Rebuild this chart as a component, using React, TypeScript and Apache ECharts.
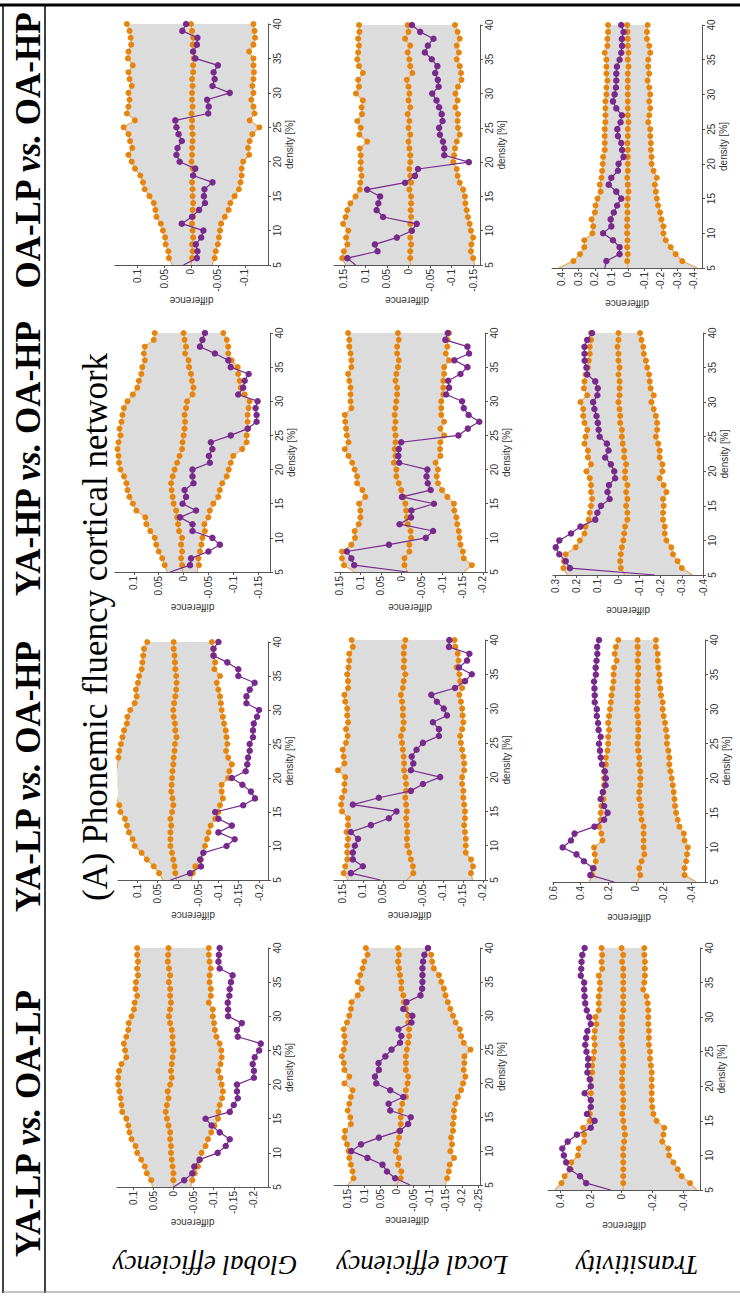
import React, { useEffect, useRef } from "react";
import * as echarts from "echarts";

// density [%] grid shared by every panel
const densities = [5, 6, 7, 8, 9, 10, 11, 12, 13, 14, 15, 16, 17, 18, 19, 20, 21, 22, 23, 24, 25, 26, 27, 28, 29, 30, 31, 32, 33, 34, 35, 36, 37, 38, 39, 40];

const comparisons = ["OA-LP vs. OA-HP", "YA-HP vs. OA-HP", "YA-LP vs. OA-HP", "YA-LP vs. OA-LP"];
const measures = ["Global efficiency", "Local efficiency", "Transitivity"];
const title = "(A) Phonemic fluency cortical network";

// ---------- Global efficiency ----------
const globalOaLpOaHpUpper = [0.034, 0.041, 0.042, 0.047, 0.048, 0.052, 0.056, 0.064, 0.066, 0.069, 0.077, 0.086, 0.089, 0.094, 0.104, 0.110, 0.116, 0.109, 0.113, 0.116, 0.125, 0.104, 0.119, 0.116, 0.114, 0.116, 0.110, 0.114, 0.116, 0.108, 0.117, 0.116, 0.111, 0.112, 0.114, 0.119];
const globalOaLpOaHpNull = [0, -0.002, -0.003, -0.002, -0.004, -0.003, -0.002, -0.004, -0.003, -0.004, -0.003, -0.003, -0.002, -0.004, -0.003, -0.001, -0.002, -0.002, -0.003, -0.003, -0.002, -0.002, -0.001, -0.003, -0.002, -0.002, -0.003, -0.002, -0.004, -0.004, -0.005, -0.004, -0.003, -0.004, -0.002, 0];
const globalOaLpOaHpLower = [-0.039, -0.044, -0.046, -0.050, -0.052, -0.054, -0.056, -0.063, -0.070, -0.073, -0.081, -0.089, -0.092, -0.094, -0.094, -0.097, -0.108, -0.106, -0.109, -0.114, -0.127, -0.109, -0.118, -0.116, -0.112, -0.116, -0.114, -0.116, -0.117, -0.116, -0.116, -0.108, -0.116, -0.119, -0.118, -0.116];
const globalOaLpOaHpObs = [0.014, -0.011, -0.012, -0.009, -0.019, -0.023, 0.017, -0.002, -0.015, -0.026, -0.024, -0.025, -0.040, -0.004, -0.008, 0.021, 0.027, 0.025, 0.017, 0.023, 0.027, 0.029, -0.032, -0.033, -0.030, -0.072, -0.040, -0.044, -0.042, -0.050, -0.008, -0.004, -0.011, -0.012, 0.016, 0.009];

const globalYaHpOaHpUpper = [0.033, 0.038, 0.043, 0.050, 0.055, 0.058, 0.067, 0.075, 0.077, 0.095, 0.102, 0.109, 0.113, 0.115, 0.120, 0.127, 0.130, 0.131, 0.133, 0.131, 0.127, 0.129, 0.125, 0.123, 0.120, 0.113, 0.102, 0.093, 0.090, 0.085, 0.083, 0.078, 0.080, 0.078, 0.060, 0.058];
const globalYaHpOaHpNull = [0.002, 0.003, 0.005, 0.003, 0.005, 0.003, 0.009, 0.011, 0.013, 0.015, 0.020, 0.022, 0.024, 0.025, 0.022, 0.018, 0.013, 0.008, 0.003, 0.002, 0, -0.002, -0.003, -0.002, -0.005, -0.007, -0.018, -0.020, -0.017, -0.015, -0.011, -0.010, -0.003, -0.005, -0.002, 0];
const globalYaHpOaHpLower = [-0.027, -0.031, -0.030, -0.033, -0.036, -0.038, -0.043, -0.042, -0.050, -0.053, -0.060, -0.070, -0.073, -0.078, -0.087, -0.091, -0.095, -0.100, -0.118, -0.127, -0.127, -0.130, -0.129, -0.129, -0.131, -0.133, -0.123, -0.115, -0.113, -0.110, -0.109, -0.097, -0.090, -0.090, -0.087, -0.080];
const globalYaHpOaHpObs = [0.027, -0.013, -0.015, -0.050, -0.073, -0.058, -0.018, -0.018, 0.007, -0.025, 0.002, -0.005, -0.002, -0.020, -0.018, -0.018, -0.053, -0.051, -0.058, -0.055, -0.095, -0.129, -0.147, -0.147, -0.145, -0.149, -0.110, -0.120, -0.123, -0.131, -0.095, -0.090, -0.063, -0.033, -0.038, -0.043];

const globalYaLpOaHpUpper = [0.036, 0.046, 0.059, 0.076, 0.089, 0.106, 0.111, 0.120, 0.125, 0.130, 0.141, 0.144, 0.150, 0.151, 0.150, 0.150, 0.150, 0.148, 0.146, 0.144, 0.140, 0.136, 0.132, 0.125, 0.124, 0.117, 0.106, 0.101, 0.103, 0.098, 0.095, 0.089, 0.087, 0.085, 0.083, 0.075];
const globalYaLpOaHpNull = [0.003, 0.006, 0.008, 0.011, 0.014, 0.018, 0.018, 0.018, 0.016, 0.018, 0.014, 0.011, 0.013, 0.016, 0.015, 0.014, 0.013, 0.011, 0.010, 0.008, 0.007, 0.003, 0.006, 0.007, 0.010, 0.011, 0.009, 0.006, 0.004, 0.003, 0.004, 0.006, 0.007, 0.008, 0.010, 0.010];
const globalYaLpOaHpLower = [-0.033, -0.037, -0.043, -0.057, -0.063, -0.067, -0.072, -0.076, -0.081, -0.092, -0.100, -0.104, -0.111, -0.108, -0.108, -0.124, -0.127, -0.133, -0.124, -0.119, -0.122, -0.120, -0.118, -0.114, -0.111, -0.108, -0.106, -0.104, -0.100, -0.096, -0.104, -0.090, -0.092, -0.088, -0.088, -0.084];
const globalYaLpOaHpObs = [0.018, -0.030, -0.057, -0.055, -0.063, -0.120, -0.140, -0.100, -0.133, -0.100, -0.092, -0.161, -0.190, -0.180, -0.159, -0.133, -0.167, -0.171, -0.173, -0.177, -0.177, -0.185, -0.185, -0.187, -0.195, -0.200, -0.169, -0.169, -0.177, -0.189, -0.149, -0.149, -0.122, -0.088, -0.088, -0.100];

const globalYaLpOaLpUpper = [0.052, 0.055, 0.066, 0.071, 0.080, 0.090, 0.094, 0.104, 0.109, 0.112, 0.117, 0.127, 0.129, 0.131, 0.134, 0.137, 0.137, 0.135, 0.129, 0.117, 0.120, 0.123, 0.117, 0.112, 0.111, 0.104, 0.098, 0.096, 0.090, 0.094, 0.093, 0.088, 0.090, 0.088, 0.090, 0.090];
const globalYaLpOaLpNull = [0, 0, 0, 0.002, 0.004, 0.006, 0.006, 0.008, 0.008, 0.012, 0.016, 0.019, 0.016, 0.012, 0.014, 0.008, 0.004, 0.006, 0.004, 0.002, 0, 0.002, 0.002, 0.004, 0.008, 0.011, 0.008, 0.006, 0.008, 0.008, 0.011, 0.008, 0.011, 0.014, 0.013, 0.012];
const globalYaLpOaLpLower = [-0.043, -0.047, -0.053, -0.061, -0.066, -0.070, -0.080, -0.086, -0.094, -0.102, -0.111, -0.112, -0.115, -0.121, -0.123, -0.120, -0.117, -0.112, -0.117, -0.120, -0.119, -0.115, -0.107, -0.103, -0.101, -0.098, -0.098, -0.088, -0.093, -0.093, -0.090, -0.090, -0.093, -0.090, -0.088, -0.088];
const globalYaLpOaLpObs = [0, -0.027, -0.047, -0.052, -0.065, -0.110, -0.130, -0.140, -0.115, -0.095, -0.080, -0.140, -0.150, -0.160, -0.158, -0.158, -0.200, -0.200, -0.197, -0.202, -0.213, -0.217, -0.160, -0.158, -0.170, -0.136, -0.136, -0.135, -0.139, -0.140, -0.143, -0.147, -0.115, -0.112, -0.113, -0.115];

// ---------- Local efficiency ----------
const localOaLpOaHpUpper = [0.146, 0.154, 0.150, 0.142, 0.145, 0.140, 0.152, 0.146, 0.142, 0.135, 0.123, 0.113, 0.112, 0.109, 0.111, 0.111, 0.111, 0.113, 0.096, 0.114, 0.111, 0.119, 0.108, 0.109, 0.106, 0.122, 0.115, 0.117, 0.106, 0.115, 0.119, 0.117, 0.115, 0.117, 0.114, 0.115];
const localOaLpOaHpNull = [-0.004, -0.004, -0.004, -0.006, -0.004, -0.006, -0.004, -0.006, -0.005, -0.006, -0.006, -0.002, -0.006, -0.004, -0.002, -0.004, -0.004, -0.002, 0, -0.004, 0, -0.002, 0.002, -0.004, 0, -0.002, 0, 0.004, -0.009, -0.004, -0.002, 0.002, -0.004, 0.008, 0, 0.002];
const localOaLpOaHpLower = [-0.154, -0.150, -0.145, -0.146, -0.150, -0.145, -0.142, -0.138, -0.135, -0.132, -0.131, -0.127, -0.119, -0.114, -0.112, -0.104, -0.106, -0.108, -0.112, -0.119, -0.115, -0.114, -0.115, -0.109, -0.114, -0.109, -0.115, -0.123, -0.122, -0.119, -0.112, -0.117, -0.112, -0.119, -0.114, -0.108];
const localOaLpOaHpObs = [0.123, 0.142, 0.072, 0.078, 0.027, -0.008, -0.019, 0.059, 0.074, 0.070, 0.066, 0.096, 0.008, -0.015, -0.022, -0.140, -0.083, -0.083, -0.080, -0.073, -0.071, -0.079, -0.077, -0.071, -0.065, -0.055, -0.070, -0.068, -0.062, -0.067, -0.054, -0.038, -0.045, -0.058, -0.027, -0.008];

const localYaHpOaHpUpper = [0.113, 0.140, 0.145, 0.145, 0.122, 0.113, 0.114, 0.104, 0.100, 0.100, 0.103, 0.088, 0.095, 0.108, 0.108, 0.114, 0.120, 0.129, 0.138, 0.129, 0.133, 0.135, 0.137, 0.138, 0.122, 0.124, 0.124, 0.124, 0.127, 0.130, 0.122, 0.122, 0.124, 0.127, 0.127, 0.130];
const localYaHpOaHpNull = [-0.016, -0.008, -0.008, -0.020, -0.020, -0.024, -0.023, -0.016, -0.014, -0.012, -0.010, -0.006, 0, 0.006, 0.012, 0.012, 0.018, 0.014, 0.016, 0.014, 0.014, 0.016, 0.014, 0.016, 0.014, 0.012, 0.010, 0.010, 0.014, 0.012, 0.008, 0.006, 0.010, 0.010, 0.006, 0.008];
const localYaHpOaHpLower = [-0.153, -0.173, -0.153, -0.151, -0.145, -0.143, -0.141, -0.137, -0.135, -0.130, -0.129, -0.113, -0.100, -0.090, -0.087, -0.090, -0.084, -0.096, -0.095, -0.096, -0.105, -0.096, -0.105, -0.098, -0.098, -0.098, -0.103, -0.103, -0.103, -0.105, -0.105, -0.117, -0.109, -0.113, -0.113, -0.117];
const localYaHpOaHpObs = [-0.016, 0.115, 0.122, 0.133, 0.030, -0.060, -0.078, 0.004, -0.024, -0.025, -0.080, -0.002, -0.072, -0.065, -0.062, -0.064, 0.005, 0.007, 0.006, 0.000, -0.140, -0.163, -0.191, -0.165, -0.153, -0.149, -0.110, -0.117, -0.115, -0.145, -0.162, -0.130, -0.166, -0.162, -0.108, -0.114];

const localYaLpOaHpUpper = [0.137, 0.148, 0.144, 0.139, 0.139, 0.139, 0.137, 0.141, 0.137, 0.137, 0.152, 0.154, 0.152, 0.146, 0.146, 0.144, 0.162, 0.146, 0.148, 0.150, 0.142, 0.138, 0.142, 0.137, 0.139, 0.139, 0.144, 0.146, 0.137, 0.137, 0.139, 0.136, 0.134, 0.134, 0.125, 0.128];
const localYaLpOaHpNull = [-0.010, -0.026, -0.025, -0.020, -0.016, -0.011, -0.010, -0.011, -0.010, -0.008, -0.010, -0.008, -0.006, -0.008, -0.008, -0.006, -0.003, -0.003, -0.002, 0, 0.002, 0.005, 0, -0.002, 0, 0, 0.002, 0.005, 0, -0.002, -0.006, -0.002, -0.003, -0.002, -0.003, -0.006];
const localYaLpOaHpLower = [-0.174, -0.170, -0.175, -0.170, -0.157, -0.157, -0.157, -0.155, -0.153, -0.155, -0.155, -0.153, -0.151, -0.151, -0.148, -0.148, -0.153, -0.153, -0.151, -0.148, -0.145, -0.143, -0.148, -0.151, -0.149, -0.148, -0.145, -0.141, -0.148, -0.143, -0.141, -0.134, -0.139, -0.137, -0.131, -0.129];
const localYaLpOaHpObs = [0.056, 0.130, 0.100, 0.125, 0.125, 0.120, 0.112, 0.130, 0.080, 0.035, 0.016, 0.125, 0.060, -0.020, -0.050, -0.093, -0.020, -0.026, -0.022, -0.034, -0.050, -0.090, -0.090, -0.075, -0.110, -0.102, -0.085, -0.071, -0.130, -0.155, -0.172, -0.140, -0.160, -0.166, -0.115, -0.116];

const localYaLpOaLpUpper = [0.151, 0.133, 0.136, 0.141, 0.146, 0.148, 0.153, 0.161, 0.159, 0.141, 0.143, 0.151, 0.146, 0.141, 0.136, 0.161, 0.146, 0.161, 0.163, 0.169, 0.163, 0.159, 0.161, 0.163, 0.153, 0.146, 0.141, 0.139, 0.120, 0.108, 0.120, 0.112, 0.105, 0.100, 0.090, 0.095];
const localYaLpOaLpNull = [0.003, -0.012, -0.014, -0.004, -0.007, 0.003, -0.002, -0.007, -0.007, -0.012, -0.012, -0.012, -0.017, -0.028, -0.028, -0.033, -0.035, -0.028, -0.028, -0.028, -0.031, -0.035, -0.038, -0.038, -0.035, -0.035, -0.028, -0.022, -0.020, -0.014, -0.014, -0.010, -0.007, -0.004, -0.007, -0.004];
const localYaLpOaLpLower = [-0.150, -0.155, -0.160, -0.163, -0.176, -0.165, -0.170, -0.167, -0.173, -0.173, -0.176, -0.176, -0.180, -0.188, -0.198, -0.204, -0.211, -0.206, -0.208, -0.208, -0.227, -0.206, -0.198, -0.194, -0.181, -0.173, -0.165, -0.157, -0.150, -0.145, -0.137, -0.130, -0.114, -0.109, -0.106, -0.096];
const localYaLpOaLpObs = [-0.041, 0.005, 0.030, 0.044, 0.090, 0.140, 0.110, 0.055, -0.010, -0.035, -0.043, 0.020, 0.025, -0.020, 0.020, 0.063, 0.067, 0.055, 0.056, 0.035, 0.016, -0.010, -0.014, -0.005, -0.045, -0.048, -0.020, -0.030, -0.073, -0.078, -0.079, -0.079, -0.079, -0.081, -0.085, -0.096];

// ---------- Transitivity ----------
const transOaLpOaHpUpper = [0.420, 0.330, 0.290, 0.264, 0.264, 0.215, 0.210, 0.220, 0.200, 0.196, 0.184, 0.165, 0.170, 0.160, 0.156, 0.152, 0.150, 0.140, 0.140, 0.140, 0.140, 0.136, 0.136, 0.136, 0.136, 0.130, 0.130, 0.124, 0.130, 0.130, 0.130, 0.140, 0.124, 0.124, 0.120, 0.120];
const transOaLpOaHpNull = [0, 0.004, 0, 0.004, 0.002, 0.004, 0.004, 0.004, 0.002, 0.004, 0, -0.004, 0, 0.004, 0, 0, 0, 0, 0.002, 0, 0, -0.004, 0, 0, 0, 0, 0, 0, 0, -0.004, 0, -0.004, 0, 0, 0.002, 0.004];
const transOaLpOaHpLower = [-0.420, -0.330, -0.290, -0.260, -0.230, -0.216, -0.216, -0.204, -0.196, -0.184, -0.176, -0.170, -0.164, -0.176, -0.156, -0.144, -0.144, -0.140, -0.140, -0.136, -0.136, -0.124, -0.130, -0.136, -0.130, -0.136, -0.130, -0.120, -0.130, -0.124, -0.124, -0.136, -0.130, -0.116, -0.116, -0.120];
const transOaLpOaHpObs = [0.140, 0.130, 0.050, 0.050, 0.090, 0.150, 0.100, 0.104, 0.085, 0.065, 0.040, 0.070, 0.116, 0.100, 0.060, 0.056, 0.026, 0.035, 0.040, 0.060, 0.064, 0.044, 0.036, 0.070, 0.090, 0.080, 0.072, 0.070, 0.070, 0.066, 0.050, 0.040, 0.035, 0.036, 0.026, 0.040];

const transYaHpOaHpUpper = [0.242, 0.261, 0.258, 0.250, 0.203, 0.183, 0.161, 0.156, 0.141, 0.136, 0.130, 0.125, 0.130, 0.130, 0.136, 0.152, 0.130, 0.145, 0.145, 0.161, 0.156, 0.148, 0.161, 0.167, 0.167, 0.180, 0.148, 0.164, 0.161, 0.156, 0.145, 0.141, 0.136, 0.136, 0.130, 0.130];
const transYaHpOaHpNull = [-0.030, -0.011, -0.008, -0.011, -0.016, -0.023, -0.027, -0.031, -0.042, -0.042, -0.036, -0.042, -0.036, -0.042, -0.031, -0.031, -0.036, -0.027, -0.027, -0.020, -0.016, -0.016, -0.008, -0.008, -0.005, 0, -0.005, -0.005, -0.005, 0, -0.005, 0, 0, 0.005, 0, 0];
const transYaHpOaHpLower = [-0.350, -0.300, -0.280, -0.258, -0.250, -0.227, -0.219, -0.219, -0.211, -0.211, -0.214, -0.211, -0.227, -0.214, -0.195, -0.208, -0.208, -0.195, -0.195, -0.188, -0.177, -0.183, -0.183, -0.177, -0.167, -0.156, -0.167, -0.152, -0.148, -0.145, -0.136, -0.130, -0.120, -0.117, -0.109, -0.102];
const transYaHpOaHpObs = [-0.172, 0.230, 0.250, 0.280, 0.297, 0.280, 0.225, 0.180, 0.110, 0.100, 0.083, 0.042, 0.052, 0.045, 0.016, 0.020, 0.036, 0.063, 0.047, 0.055, 0.089, 0.094, 0.098, 0.104, 0.114, 0.120, 0.100, 0.098, 0.110, 0.148, 0.152, 0.160, 0.161, 0.161, 0.148, 0.125];

const transYaLpOaHpUpper = [0.340, 0.315, 0.303, 0.291, 0.298, 0.303, 0.242, 0.250, 0.267, 0.255, 0.255, 0.250, 0.235, 0.235, 0.230, 0.230, 0.230, 0.218, 0.218, 0.206, 0.201, 0.201, 0.194, 0.201, 0.194, 0.187, 0.182, 0.177, 0.170, 0.162, 0.162, 0.158, 0.140, 0.153, 0.145, 0.128];
const transYaLpOaHpNull = [-0.012, -0.032, -0.024, -0.041, -0.061, -0.056, -0.056, -0.056, -0.056, -0.041, -0.036, -0.036, -0.024, -0.024, -0.032, -0.032, -0.032, -0.024, -0.024, -0.017, -0.012, -0.017, -0.017, -0.017, -0.012, -0.007, -0.012, -0.012, -0.012, -0.012, -0.017, -0.017, -0.012, -0.017, -0.012, -0.012];
const transYaLpOaHpLower = [-0.436, -0.352, -0.352, -0.364, -0.370, -0.376, -0.352, -0.347, -0.315, -0.303, -0.291, -0.283, -0.279, -0.274, -0.267, -0.259, -0.250, -0.242, -0.242, -0.235, -0.225, -0.225, -0.218, -0.211, -0.201, -0.194, -0.194, -0.182, -0.177, -0.170, -0.170, -0.162, -0.158, -0.158, -0.145, -0.145];
const transYaLpOaHpObs = [0.158, 0.330, 0.310, 0.376, 0.430, 0.530, 0.470, 0.444, 0.300, 0.230, 0.205, 0.230, 0.255, 0.240, 0.220, 0.218, 0.225, 0.245, 0.255, 0.260, 0.267, 0.255, 0.270, 0.274, 0.283, 0.283, 0.298, 0.298, 0.300, 0.303, 0.290, 0.291, 0.285, 0.279, 0.280, 0.267];

const transYaLpOaLpUpper = [0.435, 0.390, 0.370, 0.330, 0.326, 0.283, 0.278, 0.243, 0.243, 0.250, 0.206, 0.206, 0.200, 0.200, 0.200, 0.200, 0.200, 0.191, 0.191, 0.185, 0.178, 0.174, 0.178, 0.174, 0.163, 0.170, 0.148, 0.148, 0.148, 0.141, 0.141, 0.148, 0.126, 0.130, 0.126, 0.130];
const transYaLpOaLpNull = [-0.011, -0.011, -0.011, -0.011, -0.011, -0.011, -0.011, -0.017, -0.022, -0.017, -0.011, -0.004, -0.011, -0.011, -0.011, -0.004, -0.004, -0.004, -0.011, -0.011, -0.011, -0.004, 0, -0.004, -0.004, -0.004, -0.011, -0.011, -0.011, -0.011, -0.011, -0.011, -0.011, -0.004, -0.011, 0];
const transYaLpOaLpLower = [-0.490, -0.445, -0.390, -0.365, -0.337, -0.309, -0.304, -0.265, -0.272, -0.278, -0.228, -0.207, -0.200, -0.196, -0.196, -0.196, -0.196, -0.196, -0.191, -0.185, -0.185, -0.178, -0.178, -0.178, -0.174, -0.174, -0.174, -0.170, -0.163, -0.141, -0.148, -0.152, -0.152, -0.152, -0.148, -0.148];
const transYaLpOaLpObs = [0.070, 0.230, 0.270, 0.337, 0.360, 0.375, 0.385, 0.350, 0.290, 0.200, 0.175, 0.225, 0.200, 0.200, 0.240, 0.200, 0.207, 0.222, 0.218, 0.217, 0.228, 0.236, 0.230, 0.222, 0.200, 0.210, 0.226, 0.236, 0.240, 0.243, 0.243, 0.265, 0.262, 0.260, 0.255, 0.240];

// tick labels of the "difference" axes
const ticksGlobal1 = [-0.1, -0.05, 0, 0.05, 0.1];
const ticksGlobal2 = [-0.15, -0.1, -0.05, 0, 0.05, 0.1];
const ticksGlobal3 = [-0.2, -0.15, -0.1, -0.05, 0, 0.05, 0.1];
const ticksLocal1 = [-0.15, -0.1, -0.05, 0, 0.05, 0.1, 0.15];
const ticksLocal2 = [-0.2, -0.15, -0.1, -0.05, 0, 0.05, 0.1, 0.15];
const ticksLocal4 = [-0.25, -0.2, -0.15, -0.1, -0.05, 0, 0.05, 0.1, 0.15];
const ticksTrans1 = [-0.4, -0.3, -0.2, -0.1, 0, 0.1, 0.2, 0.3, 0.4];
const ticksTrans2 = [-0.4, -0.3, -0.2, -0.1, 0, 0.1, 0.2, 0.3];
const ticksTrans3 = [-0.4, -0.2, 0, 0.2, 0.4, 0.6];
const ticksTrans4 = [-0.4, -0.2, 0, 0.2, 0.4];

type Panel = {
  rect: [number, number, number, number];
  min: number;
  max: number;
  ticks: number[];
  upper: number[];
  nul: number[];
  lower: number[];
  obs: number[];
};

// layout: [left, top, right, bottom] in px
const panels: Panel[] = [
  { rect: [115, 24, 268, 265], min: -0.143, max: 0.141, ticks: ticksGlobal1, upper: globalOaLpOaHpUpper, nul: globalOaLpOaHpNull, lower: globalOaLpOaHpLower, obs: globalOaLpOaHpObs },
  { rect: [115, 333, 270, 572], min: -0.174, max: 0.138, ticks: ticksGlobal2, upper: globalYaHpOaHpUpper, nul: globalYaHpOaHpNull, lower: globalYaHpOaHpLower, obs: globalYaHpOaHpObs },
  { rect: [118, 642, 268, 880], min: -0.222, max: 0.147, ticks: ticksGlobal3, upper: globalYaLpOaHpUpper, nul: globalYaLpOaHpNull, lower: globalYaLpOaHpLower, obs: globalYaLpOaHpObs },
  { rect: [117, 948, 268, 1187], min: -0.235, max: 0.14, ticks: ticksGlobal3, upper: globalYaLpOaLpUpper, nul: globalYaLpOaLpNull, lower: globalYaLpOaLpLower, obs: globalYaLpOaLpObs },
  { rect: [334, 25, 480, 265], min: -0.166, max: 0.173, ticks: ticksLocal1, upper: localOaLpOaHpUpper, nul: localOaLpOaHpNull, lower: localOaLpOaHpLower, obs: localOaLpOaHpObs },
  { rect: [335, 333, 485, 572], min: -0.205, max: 0.162, ticks: ticksLocal2, upper: localYaHpOaHpUpper, nul: localYaHpOaHpNull, lower: localYaHpOaHpLower, obs: localYaHpOaHpObs },
  { rect: [334, 640, 485, 880], min: -0.205, max: 0.172, ticks: ticksLocal2, upper: localYaLpOaHpUpper, nul: localYaLpOaHpNull, lower: localYaLpOaHpLower, obs: localYaLpOaHpObs },
  { rect: [334, 948, 480, 1185], min: -0.256, max: 0.193, ticks: ticksLocal4, upper: localYaLpOaLpUpper, nul: localYaLpOaLpNull, lower: localYaLpOaLpLower, obs: localYaLpOaLpObs },
  { rect: [552, 25, 702, 268], min: -0.45, max: 0.46, ticks: ticksTrans1, upper: transOaLpOaHpUpper, nul: transOaLpOaHpNull, lower: transOaLpOaHpLower, obs: transOaLpOaHpObs },
  { rect: [553, 333, 703, 575], min: -0.4, max: 0.31, ticks: ticksTrans2, upper: transYaHpOaHpUpper, nul: transYaHpOaHpNull, lower: transYaHpOaHpLower, obs: transYaHpOaHpObs },
  { rect: [553, 640, 705, 882], min: -0.5, max: 0.6, ticks: ticksTrans3, upper: transYaLpOaHpUpper, nul: transYaLpOaHpNull, lower: transYaLpOaHpLower, obs: transYaLpOaHpObs },
  { rect: [548, 948, 700, 1190], min: -0.51, max: 0.478, ticks: ticksTrans4, upper: transYaLpOaLpUpper, nul: transYaLpOaLpNull, lower: transYaLpOaLpLower, obs: transYaLpOaLpObs },
];

const ORANGE = "#e6850e";
const ORANGE_LINE = "#eea04e";
const PURPLE = "#772a8c";
const BAND = "#dcdcdc";
const AXIS = "#555555";
const TEXT = "#333333";
const SANS = "Liberation Sans, Arial, sans-serif";
const SERIF = "Liberation Serif, Times New Roman, serif";

function toPoints(values: number[]) {
  return densities.map((d, k) =>
    k === 0 ? { value: [values[k], d], symbol: "none" } : { value: [values[k], d] }
  );
}

function buildOption() {
  const grid: any[] = [];
  const xAxis: any[] = [];
  const yAxis: any[] = [];
  const series: any[] = [];

  panels.forEach((p, i) => {
    const [l, t, r, b] = p.rect;
    grid.push({ left: l, top: t, width: r - l, height: b - t, containLabel: false });
    xAxis.push({
      gridIndex: i,
      type: "value",
      min: p.min,
      max: p.max,
      inverse: true,
      position: "bottom",
      axisLine: { show: true, onZero: false, lineStyle: { color: AXIS, width: 1 } },
      axisTick: { show: true, customValues: p.ticks, length: 3, lineStyle: { color: AXIS } },
      axisLabel: { customValues: p.ticks, rotate: 90, fontSize: 10, color: TEXT, margin: 4, fontFamily: SANS },
      splitLine: { show: false },
      name: "difference",
      nameLocation: "middle",
      nameGap: 30,
      nameRotate: 180,
      nameTextStyle: { fontSize: 10, color: TEXT, fontFamily: SANS },
    });
    yAxis.push({
      gridIndex: i,
      type: "value",
      min: 5,
      max: 40,
      interval: 5,
      position: "right",
      axisLine: { show: true, onZero: false, lineStyle: { color: AXIS, width: 1 } },
      axisTick: { show: true, length: 3, lineStyle: { color: AXIS } },
      axisLabel: { rotate: 90, fontSize: 10, color: TEXT, margin: 4, fontFamily: SANS },
      splitLine: { show: false },
      name: "density [%]",
      nameLocation: "middle",
      nameGap: 16,
      nameRotate: 90,
      nameTextStyle: { fontSize: 10, color: TEXT, fontFamily: SANS },
    });

    const upper = p.upper;
    const lower = p.lower;
    series.push({
      type: "custom",
      xAxisIndex: i,
      yAxisIndex: i,
      silent: true,
      clip: true,
      z: 1,
      data: [[0, 5]],
      renderItem: (_params: any, api: any) => {
        const pts: number[][] = [];
        densities.forEach((d, k) => pts.push(api.coord([upper[k], d])));
        for (let k = densities.length - 1; k >= 0; k--) pts.push(api.coord([lower[k], densities[k]]));
        return { type: "polygon", shape: { points: pts }, style: { fill: BAND } };
      },
    });

    [p.upper, p.nul, p.lower].forEach((arr) => {
      series.push({
        type: "line",
        xAxisIndex: i,
        yAxisIndex: i,
        data: toPoints(arr),
        symbol: "circle",
        symbolSize: 6,
        showSymbol: true,
        clip: true,
        silent: true,
        z: 3,
        itemStyle: { color: ORANGE },
        lineStyle: { color: ORANGE_LINE, width: 1.1 },
      });
    });
    series.push({
      type: "line",
      xAxisIndex: i,
      yAxisIndex: i,
      data: toPoints(p.obs),
      symbol: "circle",
      symbolSize: 6.5,
      showSymbol: true,
      clip: true,
      silent: true,
      z: 4,
      itemStyle: { color: PURPLE },
      lineStyle: { color: PURPLE, width: 1.2 },
    });
  });

  const headerY = [151, 459, 777, 1124];
  const graphic: any[] = [];
  comparisons.forEach((c, k) => {
    const [a, b] = c.split(" vs. ");
    graphic.push({
      type: "text",
      x: 28,
      y: headerY[k],
      rotation: Math.PI / 2,
      style: {
        text: `{b|${a} }{i|vs.}{b| ${b}}`,
        align: "center",
        verticalAlign: "middle",
        rich: {
          b: { fontFamily: SERIF, fontWeight: "bold", fontSize: 35, fill: "#000" },
          i: { fontFamily: SERIF, fontWeight: "bold", fontStyle: "italic", fontSize: 35, fill: "#000" },
        },
      },
    });
  });
  graphic.push({
    type: "text",
    x: 95,
    y: 627,
    rotation: Math.PI / 2,
    style: { text: title, align: "center", verticalAlign: "middle", fontFamily: SERIF, fontSize: 35, fill: "#000" },
  });
  const labelX = [205, 422, 637];
  measures.forEach((m, k) => {
    graphic.push({
      type: "text",
      x: labelX[k],
      y: 1265,
      rotation: Math.PI,
      style: { text: m, align: "center", verticalAlign: "middle", fontFamily: SERIF, fontStyle: "italic", fontSize: 27, fill: "#000" },
    });
  });
  graphic.push(
    { type: "line", shape: { x1: 0, y1: 5, x2: 740, y2: 5 }, style: { stroke: "#000", lineWidth: 3 } },
    { type: "line", shape: { x1: 3, y1: 5, x2: 3, y2: 1293 }, style: { stroke: "#000", lineWidth: 1.5 } },
    { type: "line", shape: { x1: 45, y1: 5, x2: 45, y2: 1293 }, style: { stroke: "#000", lineWidth: 1.5 } },
    { type: "line", shape: { x1: 3, y1: 1292, x2: 740, y2: 1292 }, style: { stroke: "#888", lineWidth: 1 } }
  );

  return {
    animation: false,
    backgroundColor: "#ffffff",
    grid,
    xAxis,
    yAxis,
    series,
    graphic,
  };
}

export default function App() {
  const ref = useRef<HTMLDivElement>(null);
  useEffect(() => {
    if (!ref.current) return;
    const chart = echarts.init(ref.current, undefined, { renderer: "svg" });
    chart.setOption(buildOption() as any);
    return () => chart.dispose();
  }, []);
  return (
    <div
      ref={ref}
      style={{ position: "absolute", left: 0, top: 0, width: 740, height: 1297, background: "#fff" }}
    />
  );
}
